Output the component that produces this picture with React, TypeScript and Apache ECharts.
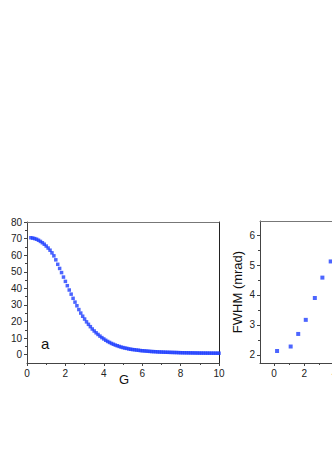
import React, { useEffect, useRef } from "react";
import * as echarts from "echarts";

// Panel a: K versus G
const gValues = [
  0.2, 0.3, 0.4, 0.5, 0.6, 0.7, 0.8, 0.9, 1.0, 1.1, 1.2, 1.3, 1.4, 1.5, 1.6, 1.7, 1.8, 1.9,
  2.0, 2.1, 2.2, 2.3, 2.4, 2.5, 2.6, 2.7, 2.8, 2.9, 3.0, 3.1, 3.2, 3.3, 3.4, 3.5, 3.6, 3.7,
  3.8, 3.9, 4.0, 4.1, 4.2, 4.3, 4.4, 4.5, 4.6, 4.7, 4.8, 4.9, 5.0, 5.1, 5.2, 5.3, 5.4, 5.5,
  5.6, 5.7, 5.8, 5.9, 6.0, 6.1, 6.2, 6.3, 6.4, 6.5, 6.6, 6.7, 6.8, 6.9, 7.0, 7.1, 7.2, 7.3,
  7.4, 7.5, 7.6, 7.7, 7.8, 7.9, 8.0, 8.1, 8.2, 8.3, 8.4, 8.5, 8.6, 8.7, 8.8, 8.9, 9.0, 9.1,
  9.2, 9.3, 9.4, 9.5, 9.6, 9.7, 9.8, 9.9, 10.0,
];
const kValues = [
  70.5, 70.3, 70.0, 69.6, 69.0, 68.3, 67.5, 66.6, 65.5, 64.3, 63.0, 61.4, 59.6, 57.2, 54.5, 52.0, 49.5, 46.8,
  44.2, 41.6, 39.0, 36.5, 34.0, 31.7, 29.5, 27.2, 25.1, 23.2, 21.5, 19.8, 18.3, 16.9, 15.5, 14.3, 13.2, 12.2,
  11.2, 10.3, 9.5, 8.7, 8.0, 7.4, 6.8, 6.3, 5.8, 5.4, 5.0, 4.6, 4.3, 4.0, 3.8, 3.5, 3.3, 3.1,
  3.0, 2.8, 2.7, 2.5, 2.4, 2.3, 2.2, 2.1, 2.0, 1.9, 1.85, 1.8, 1.7, 1.65, 1.6, 1.55, 1.5, 1.47,
  1.43, 1.4, 1.36, 1.33, 1.3, 1.25, 1.2, 1.18, 1.16, 1.14, 1.12, 1.1, 1.08, 1.06, 1.04, 1.02, 1.0, 0.99,
  0.98, 0.97, 0.96, 0.95, 0.94, 0.93, 0.92, 0.91, 0.9,
];
const kTickLabels = [0, 10, 20, 30, 40, 50, 60, 70, 80];
const kMinorTicks = [5, 15, 25, 35, 45, 55, 65, 75];
const gTickLabels = [0, 2, 4, 6, 8, 10];
const gMinorTicks = [1, 3, 5, 7, 9];

// Panel b: FWHM versus x (partly cut off)
const bX = [0.2, 1.1, 1.6, 2.1, 2.7, 3.2, 3.75];
const bFwhm = [2.13, 2.28, 2.7, 3.17, 3.9, 4.58, 5.12];
const bYTickLabels = [2, 3, 4, 5, 6];
const bYMinorTicks = [2.5, 3.5, 4.5, 5.5, 6.5];
const bXTickLabels = [0, 2, 4, 6, 8];
const bXMinorTicks = [1, 3, 5, 7];

const FONT = "Liberation Sans, Arial, sans-serif";
const AX = "#444";
const BLUE = "#1f3fff";

export default function App() {
  const ref = useRef<HTMLDivElement>(null);
  useEffect(() => {
    if (!ref.current) return;
    const chart = echarts.init(ref.current, null, { renderer: "svg" });
    const lbl = { fontFamily: FONT, fontSize: 10, color: "#222" };

    const majorX = (grid: number, min: number, max: number, vals: number[]) => ({
      type: "value", gridIndex: grid, min, max, position: "bottom",
      axisLine: { show: true, onZero: false, lineStyle: { color: AX, width: 1 } },
      axisTick: { show: true, length: 3, customValues: vals, lineStyle: { color: AX } },
      axisLabel: { ...lbl, margin: 5, customValues: vals },
      splitLine: { show: false },
    });
    const minorX = (grid: number, min: number, max: number, vals: number[]) => ({
      type: "value", gridIndex: grid, min, max, position: "bottom",
      axisLine: { show: false, onZero: false },
      axisTick: { show: true, length: 2, customValues: vals, lineStyle: { color: AX } },
      axisLabel: { show: false },
      splitLine: { show: false },
    });
    const topX = (grid: number, min: number, max: number) => ({
      type: "value", gridIndex: grid, min, max, position: "top",
      axisLine: { show: true, onZero: false, lineStyle: { color: "#777", width: 1 } },
      axisTick: { show: false }, axisLabel: { show: false }, splitLine: { show: false },
    });
    const majorY = (grid: number, min: number, max: number, vals: number[], name: string, gap: number) => ({
      type: "value", gridIndex: grid, min, max, position: "left",
      name, nameLocation: "middle", nameGap: gap,
      nameTextStyle: { fontFamily: FONT, fontSize: 13, color: "#111" },
      axisLine: { show: true, onZero: false, lineStyle: { color: AX, width: 1 } },
      axisTick: { show: true, length: 3, customValues: vals, lineStyle: { color: AX } },
      axisLabel: { ...lbl, margin: 5, customValues: vals },
      splitLine: { show: false },
    });
    const minorY = (grid: number, min: number, max: number, vals: number[]) => ({
      type: "value", gridIndex: grid, min, max, position: "left",
      axisLine: { show: false, onZero: false },
      axisTick: { show: true, length: 2, customValues: vals, lineStyle: { color: AX } },
      axisLabel: { show: false },
      splitLine: { show: false },
    });
    const rightY = (grid: number, min: number, max: number) => ({
      type: "value", gridIndex: grid, min, max, position: "right",
      axisLine: { show: true, onZero: false, lineStyle: { color: "#222", width: 1 } },
      axisTick: { show: false }, axisLabel: { show: false }, splitLine: { show: false },
    });

    chart.setOption({
      animation: false,
      grid: [
        { left: 27, top: 222, width: 192, height: 141, containLabel: false, outerBoundsMode: "none" },
        { left: 260, top: 221, width: 150, height: 142, containLabel: false, outerBoundsMode: "none" },
      ],
      xAxis: [
        majorX(0, 0, 10, gTickLabels),
        minorX(0, 0, 10, gMinorTicks),
        topX(0, 0, 10),
        majorX(1, -0.93, 9, bXTickLabels),
        minorX(1, -0.93, 9, bXMinorTicks),
        topX(1, -0.93, 9),
      ],
      yAxis: [
        majorY(0, -5, 80, kTickLabels, "K", 19),
        minorY(0, -5, 80, kMinorTicks),
        rightY(0, -5, 80),
        majorY(1, 1.73, 6.47, bYTickLabels, "FWHM (mrad)", 16),
        minorY(1, 1.73, 6.47, bYMinorTicks),
      ],
      graphic: [
        { type: "text", left: 41, top: 336, style: { text: "a", font: `15px ${FONT}`, fill: "#111" } },
        { type: "text", left: 119, top: 373, style: { text: "G", font: `13px ${FONT}`, fill: "#111" } },
      ],
      series: [
        {
          type: "scatter", xAxisIndex: 0, yAxisIndex: 0,
          symbol: "rect", symbolSize: 3.5,
          itemStyle: { color: BLUE },
          data: gValues.map((g, i) => [g, kValues[i]]),
        },
        {
          type: "scatter", xAxisIndex: 3, yAxisIndex: 3,
          symbol: "rect", symbolSize: 4,
          itemStyle: { color: BLUE },
          data: bX.map((x, i) => [x, bFwhm[i]]),
        },
      ],
    });
    return () => chart.dispose();
  }, []);
  return (
    <div
      ref={ref}
      style={{ position: "absolute", left: 0, top: 0, width: 332, height: 470, background: "#fff" }}
    />
  );
}
